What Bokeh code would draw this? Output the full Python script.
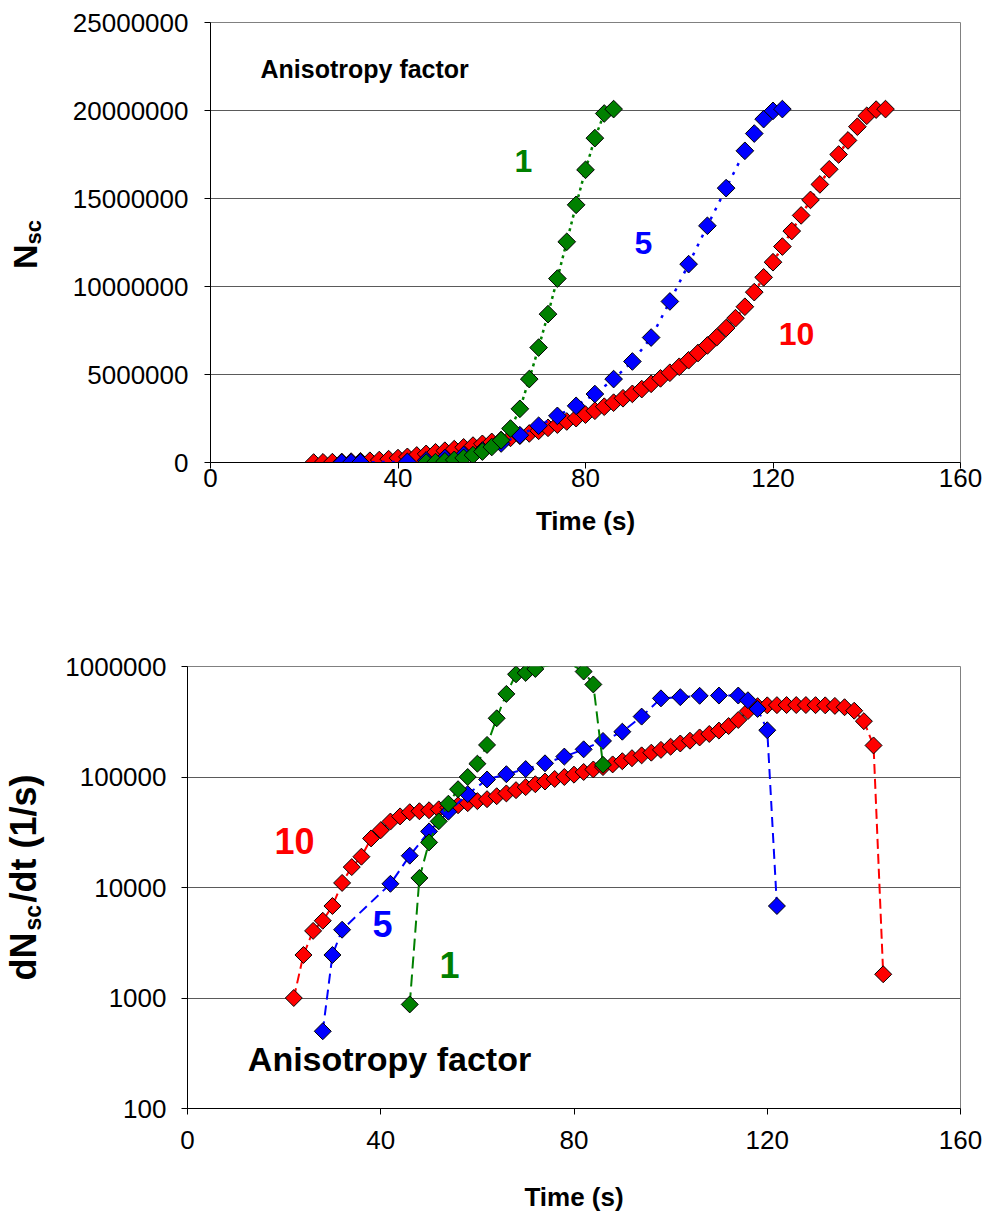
import numpy as np
from bokeh.plotting import figure
from bokeh.models import Range1d, FixedTicker, PrintfTickFormatter, Label, Title
from bokeh.embed import file_html
from bokeh.resources import INLINE

FONT = "Liberation Sans"
GREEN = "#008000"
BLUE = "#0000FF"
RED = "#FF0000"
NBSP = "\u00a0"

# ---------------- data: cumulative N_sc (top chart) ----------------
t_red = [22, 24, 26, 28, 30, 32, 34, 36, 38, 40, 42, 44, 46, 48, 50, 52, 54, 56, 58, 60,
         62, 64, 66, 68, 70, 72, 74, 76, 78, 80, 82, 84, 86, 88, 90, 92, 94, 96, 98, 100,
         102, 104, 106, 108, 110, 112, 114, 116, 118, 120, 122, 124, 126, 128, 130, 132,
         134, 136, 138, 140, 142, 144]
n_red = [0.00, 0.01, 0.02, 0.03, 0.05, 0.07, 0.10, 0.14, 0.19, 0.25, 0.32, 0.40, 0.49, 0.58,
         0.67, 0.76, 0.86, 0.96, 1.06, 1.17, 1.28, 1.40, 1.52, 1.65, 1.80, 1.97, 2.15, 2.33,
         2.52, 2.72, 2.94, 3.17, 3.40, 3.65, 3.90, 4.17, 4.47, 4.78, 5.10, 5.44, 5.81, 6.22,
         6.65, 7.12, 7.64, 8.20, 8.85, 9.68, 10.52, 11.38, 12.27, 13.15, 14.04, 14.92, 15.80,
         16.66, 17.50, 18.30, 19.08, 19.70, 20.05, 20.08]  # millions

t_blue = [28, 30, 32, 42, 46, 50, 54, 58, 62, 66, 70, 74, 78, 82, 86, 90, 94, 98, 102, 106,
          110, 114, 116, 118, 120, 122]
n_blue = [0.00, 0.005, 0.01, 0.04, 0.12, 0.25, 0.43, 0.68, 1.08, 1.55, 2.09, 2.65, 3.22, 3.89,
          4.74, 5.74, 7.10, 9.15, 11.27, 13.45, 15.59, 17.71, 18.69, 19.51, 19.98, 20.08]

t_green = [46, 48, 50, 52, 54, 56, 58, 60, 62, 64, 66, 68, 70, 72, 74, 76, 78, 80, 82, 84, 86]
n_green = [0.00, 0.02, 0.07, 0.15, 0.26, 0.42, 0.62, 0.88, 1.26, 1.93, 3.05, 4.74, 6.53, 8.43,
           10.45, 12.54, 14.64, 16.63, 18.43, 19.83, 20.08]

# ---------------- data: dN_sc/dt (bottom chart) ----------------
r_red = [1000, 2450, 4050, 5000, 6800, 11000, 15300, 19000, 27800, 33000, 39500, 44000, 48000,
         49000, 50000, 51000, 53000, 55500, 58000, 60500, 63000, 67000, 71000, 76000, 81000,
         86000, 91000, 96000, 100000, 105000, 111000, 117000, 123000, 130000, 139000, 148000,
         157000, 166000, 176000, 188000, 201000, 213000, 228000, 245000, 263000, 289000,
         328000, 395000, 437000, 445000, 447000, 448000, 448000, 448000, 447000, 445000,
         440000, 428000, 398000, 320000, 193000, 1640]
r_blue = [500, 2450, 4150, 10800, 19400, 32200, 48500, 70000, 95000, 106000, 118000, 133000,
          153000, 178000, 212000, 257000, 352000, 515000, 528000, 543000, 546000, 546000,
          495000, 413000, 265000, 6800]
r_green = [875, 12200, 25600, 39700, 57300, 77500, 100000, 132000, 195000, 340000, 565000,
           850000, 875000, 950000, 1010000, 1050000, 1050000, 1010000, 900000, 688000, 129000]

x_ticks = [0, 40, 80, 120, 160]
top_y_ticks = [0, 5000000, 10000000, 15000000, 20000000, 25000000]
bot_y_ticks = [100, 1000, 10000, 100000, 1000000]


def style(p, xlab_standoff, ylab_standoff, title_standoff, ytitle_size):
    p.background_fill_color = "white"
    p.border_fill_color = "white"
    p.outline_line_color = "#808080"
    p.outline_line_width = 1
    p.xgrid.grid_line_color = None
    p.ygrid.grid_line_color = "#5a5a5a"
    p.ygrid.grid_line_width = 1
    for ax in (p.xaxis, p.yaxis):
        ax.axis_line_color = "black"
        ax.axis_line_width = 1
        ax.major_tick_line_color = "black"
        ax.major_tick_out = 6
        ax.major_tick_in = 0
        ax.minor_tick_line_color = None
        ax.major_label_text_font = FONT
        ax.major_label_text_font_size = "26px"
        ax.major_label_text_color = "black"
        ax.axis_label_text_font = FONT
        ax.axis_label_text_font_style = "bold"
        ax.axis_label_text_color = "black"
    p.xaxis.major_label_standoff = xlab_standoff
    p.yaxis.major_label_standoff = ylab_standoff
    p.xaxis.axis_label = "Time (s)"
    p.xaxis.axis_label_text_font_size = "26px"
    p.xaxis.axis_label_standoff = title_standoff
    p.yaxis.axis_label_text_font_size = ytitle_size


def label(p, x, y, text, size, color="black", align="center"):
    p.add_layout(Label(x=x, y=y, x_units="screen", y_units="screen", text=text,
                       text_font=FONT, text_font_size=size, text_font_style="bold",
                       text_color=color, text_align=align, text_baseline="middle"))


def subscript(p, text, size, offset, standoff):
    p.add_layout(Title(text=text, align="left", vertical_align="bottom", offset=offset,
                       standoff=standoff, text_font=FONT, text_font_size=size,
                       text_font_style="bold", text_color="black"), "left")


# ---------------- top chart ----------------
p1 = figure(width=985, height=590, x_range=Range1d(0, 160), y_range=Range1d(0, 25000000),
            output_backend="svg", toolbar_location=None,
            min_border_left=210, min_border_right=25, min_border_top=22, min_border_bottom=128)
style(p1, 0, 16, 16, "34px")
p1.xaxis.ticker = FixedTicker(ticks=x_ticks)
p1.yaxis.ticker = FixedTicker(ticks=top_y_ticks)
p1.yaxis.formatter = PrintfTickFormatter(format="%d")
p1.yaxis.axis_label = "N" + NBSP * 3
p1.yaxis.axis_label_standoff = 26
subscript(p1, "sc", "22px", 218, -87)

M = 1e6
series_top = [(t_red, n_red, RED, "3 4"), (t_blue, n_blue, BLUE, "3 7"), (t_green, n_green, GREEN, "3 4")]
for t, n, c, dash in series_top:
    y = [v * M for v in n]
    p1.line(t, y, line_color=c, line_width=2.5, line_dash=dash)
    p1.scatter(t, y, marker="square", angle=np.pi / 4, size=12.5, fill_color=c,
               line_color="black", line_width=1)

label(p1, 50, 394, "Anisotropy factor", "25px", align="left")
label(p1, 313, 302, "1", "32px", GREEN)
label(p1, 433, 220, "5", "32px", BLUE)
label(p1, 586, 129, "10", "32px", RED)

# ---------------- bottom chart ----------------
p2 = figure(width=985, height=624, x_range=Range1d(0, 160), y_range=Range1d(100, 1000000),
            y_axis_type="log", output_backend="svg", toolbar_location=None,
            min_border_left=186, min_border_right=25, min_border_top=76, min_border_bottom=103)
style(p2, 16, 15, 30, "36px")
p2.xaxis.ticker = FixedTicker(ticks=x_ticks)
p2.yaxis.ticker = FixedTicker(ticks=bot_y_ticks, minor_ticks=[])
p2.yaxis.formatter = PrintfTickFormatter(format="%d")
p2.yaxis.axis_label = NBSP * 2 + "dN" + NBSP * 3 + "/dt (1/s)"
p2.yaxis.axis_label_standoff = 18
subscript(p2, "sc", "23px", 178, -91)

ymax = 1000000
series_bot = [(t_red, r_red, RED, "10 5"), (t_blue, r_blue, BLUE, "10 6"), (t_green, r_green, GREEN, "12 6")]
for t, r, c, dash in series_bot:
    p2.line(t, r, line_color=c, line_width=2, line_dash=dash)
    # like the original, markers beyond the axis maximum are not drawn
    tv = [a for a, b in zip(t, r) if b <= ymax]
    rv = [b for b in r if b <= ymax]
    p2.scatter(tv, rv, marker="square", angle=np.pi / 4, size=12, fill_color=c,
               line_color="black", line_width=1)

label(p2, 107, 268, "10", "36px", RED)
label(p2, 195, 185, "5", "36px", BLUE)
label(p2, 262, 144, "1", "36px", GREEN)
label(p2, 202, 50, "Anisotropy factor", "34px")

open("out.html", "w").write(file_html([p1, p2], INLINE))
